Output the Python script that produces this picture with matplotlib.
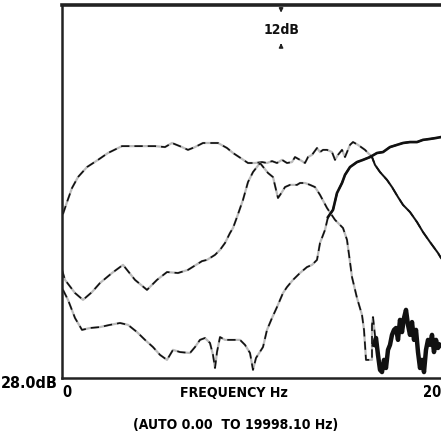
import matplotlib
matplotlib.use("Agg")
import matplotlib.pyplot as plt
import numpy as np

plt.rcParams['font.family'] = ['DejaVu Sans']
plt.rcParams['font.weight'] = 'bold'
plt.rcParams['font.stretch'] = 'condensed'

# frequency in Hz, level in dB (bottom of screen = 28 dB)
woofer_hz = [53, 264, 528, 844, 1319, 1900, 2427, 3166, 4116, 4908,
             5435, 5805, 6333, 6649, 7018, 7440, 8232, 8707, 9024, 9499,
             9815, 10185, 10554, 10818, 11082, 11346, 11609, 11873, 12137, 12295,
             12559, 12823, 12982, 13193, 13457, 13615, 13774, 13985, 14248, 14407,
             14565, 14776, 14934, 15198, 15356, 15620, 15990, 16359, 16517, 16781,
             17150, 17414, 17731, 17995, 18364, 18734, 19050, 19420, 19842, 20000]
woofer_db = [80.5, 84.3, 88.8, 92.3, 95.5, 97.8, 100.0, 102.2, 102.2, 102.2,
             101.9, 103.2, 101.9, 101.0, 101.9, 103.2, 103.2, 101.6, 100.0, 98.1,
             96.8, 96.8, 97.1, 96.8, 97.4, 96.8, 97.8, 96.8, 97.1, 98.7,
             97.8, 96.8, 98.7, 99.4, 101.6, 100.3, 101.0, 101.0, 100.3, 97.8,
             99.4, 101.0, 98.7, 102.6, 103.5, 102.6, 101.0, 98.7, 96.2, 93.9,
             91.4, 89.1, 85.9, 83.4, 81.1, 77.9, 74.7, 71.5, 68.0, 66.4]

mid_hz = [0, 158, 686, 1108, 1583, 2005, 2638, 3219, 3852, 4485,
          5013, 5541, 6121, 6649, 7388, 7652, 8074, 8338, 8602, 8865,
          9024, 9235, 9551, 9815, 10079, 10448, 10660, 10871, 11134, 11398,
          11609, 11768, 12031, 12401, 12559, 12823, 13087, 13351, 13615, 13985,
          14407, 14829, 15040, 15198, 15303, 15567, 15831, 15937, 15990, 16042,
          16200, 16359, 16359, 16412, 16570]
mid_db = [62.6, 59.4, 55.2, 53.0, 55.5, 58.4, 61.6, 64.2, 59.4, 56.2,
          59.4, 61.9, 61.6, 62.6, 65.4, 65.8, 67.4, 69.0, 71.2, 74.4,
          76.0, 79.5, 85.0, 90.7, 93.9, 96.8, 95.2, 93.6, 92.3, 85.6,
          87.5, 89.1, 89.8, 89.8, 90.4, 90.4, 89.8, 89.1, 86.6, 82.4,
          78.6, 76.0, 72.2, 65.1, 60.3, 53.6, 48.2, 43.4, 38.6, 33.8,
          33.8, 33.8, 45.0, 47.5, 38.6]

tweeter_hz = [53, 317, 686, 1055, 1478, 2005, 2533, 3061, 3483, 3958,
              4380, 4802, 5171, 5541, 5857, 6227, 6754, 7018, 7282, 7546,
              7810, 7968, 8074, 8179, 8338, 8602, 8971, 9393, 9657, 9921,
              10079, 10237, 10607, 10818, 11082, 11346, 11662, 11873, 12190, 12559,
              12928, 13193, 13457, 13615, 13879, 14037, 14301, 14512, 14776, 14934,
              15198, 15567, 15884, 16253, 16623, 16939, 17309, 17678, 17995, 18364,
              18734, 19050, 19420, 19736, 20000]
tweeter_db = [56.2, 53.0, 47.2, 43.4, 44.0, 44.3, 45.0, 45.6, 45.0, 42.7,
              40.2, 37.9, 35.4, 33.8, 37.0, 36.3, 36.0, 37.9, 40.2, 40.8,
              39.2, 35.4, 31.2, 36.3, 41.1, 40.2, 40.2, 40.2, 38.6, 36.0,
              30.6, 34.4, 37.9, 43.4, 47.2, 50.7, 55.2, 57.1, 59.4, 61.6,
              63.5, 64.2, 65.8, 71.2, 75.4, 79.5, 81.8, 87.2, 90.4, 93.0,
              95.5, 97.1, 97.8, 98.7, 100.0, 100.3, 101.9, 102.6, 103.2, 103.5,
              103.5, 104.2, 104.5, 104.8, 105.1]

noise_hz = [16464, 16570, 16675, 16781, 16886, 16992, 17097, 17203, 17309, 17414,
            17520, 17625, 17731, 17836, 17942, 18047, 18153, 18258, 18364, 18470,
            18575, 18681, 18786, 18892, 18997, 19103, 19208, 19314, 19420, 19525,
            19630, 19736, 19842, 19947]
noise_db = [38.6, 40.8, 35.4, 30.6, 29.9, 33.8, 31.2, 37.0, 38.6, 41.8,
            43.4, 44.0, 40.2, 46.6, 42.7, 47.2, 49.8, 45.0, 41.8, 45.9,
            40.2, 43.4, 36.3, 31.2, 33.8, 29.9, 37.0, 40.2, 38.6, 41.8,
            36.3, 40.2, 37.6, 38.6]

x_ticks = [0, 20000]
x_ticklabels = ['0', '20']

fig = plt.figure(figsize=(4.41, 4.37), dpi=100)
ax = fig.add_axes([62 / 441, 59 / 437, 379 / 441, 373 / 437])
ax.set_xlim(0, 20000)
ax.set_ylim(28, 28 + 373 * 0.32)

# scanned traces look broken: light grey base with black dashes on top
for hz, db in [(woofer_hz, woofer_db), (mid_hz, mid_db), (tweeter_hz, tweeter_db)]:
    ax.plot(hz, db, color='#bbbbbb', lw=1.6)
    ax.plot(hz, db, color='#111111', lw=1.2, dashes=(5, 3))

# high end of the tweeter and woofer roll-off are solid heavy lines
tw_hz = np.array(tweeter_hz)
tw_db = np.array(tweeter_db)
ax.plot(tw_hz[tw_hz >= 14000], tw_db[tw_hz >= 14000], color='#111111', lw=1.9)
wf_hz = np.array(woofer_hz)
wf_db = np.array(woofer_db)
ax.plot(wf_hz[wf_hz >= 16300], wf_db[wf_hz >= 16300], color='#111111', lw=1.3)
ax.plot(noise_hz, noise_db, color='#111111', lw=3.2)

for side in ['top', 'left', 'bottom']:
    ax.spines[side].set_color('#222222')
    ax.spines[side].set_linewidth(1.8)
ax.spines['top'].set_linewidth(2.6)
ax.spines['right'].set_visible(False)

ax.set_yticks([])
ax.set_xticks(x_ticks)
ax.set_xticklabels(x_ticklabels, fontsize=10.5)
ax.tick_params(axis='x', length=0, pad=5)
ax.get_xticklabels()[0].set_ha('left')
ax.get_xticklabels()[1].set_ha('right')

# 12dB scale marker at top centre
mx = 0.578
ax.annotate('', xy=(mx, 0.972), xytext=(mx, 1.0), xycoords='axes fraction',
            arrowprops=dict(arrowstyle='-|>', color='#222222', lw=1.0, mutation_scale=6))
ax.annotate('', xy=(mx, 0.905), xytext=(mx, 0.882), xycoords='axes fraction',
            arrowprops=dict(arrowstyle='-|>', color='#222222', lw=1.0, mutation_scale=6))
ax.text(mx, 0.933, '12dB', transform=ax.transAxes, ha='center', va='center',
        fontsize=10, color='#111111')

fig.text(58 / 441, 1 - 384 / 437, '28.0dB', ha='right', va='center', fontsize=11.5)
fig.text(234 / 441, 1 - 393 / 437, 'FREQUENCY Hz', ha='center', va='center', fontsize=10.2)
fig.text(236 / 441, 1 - 425 / 437, '(AUTO 0.00  TO 19998.10 Hz)', ha='center',
         va='center', fontsize=10)

fig.savefig('out.png', dpi=100)
plt.close(fig)
